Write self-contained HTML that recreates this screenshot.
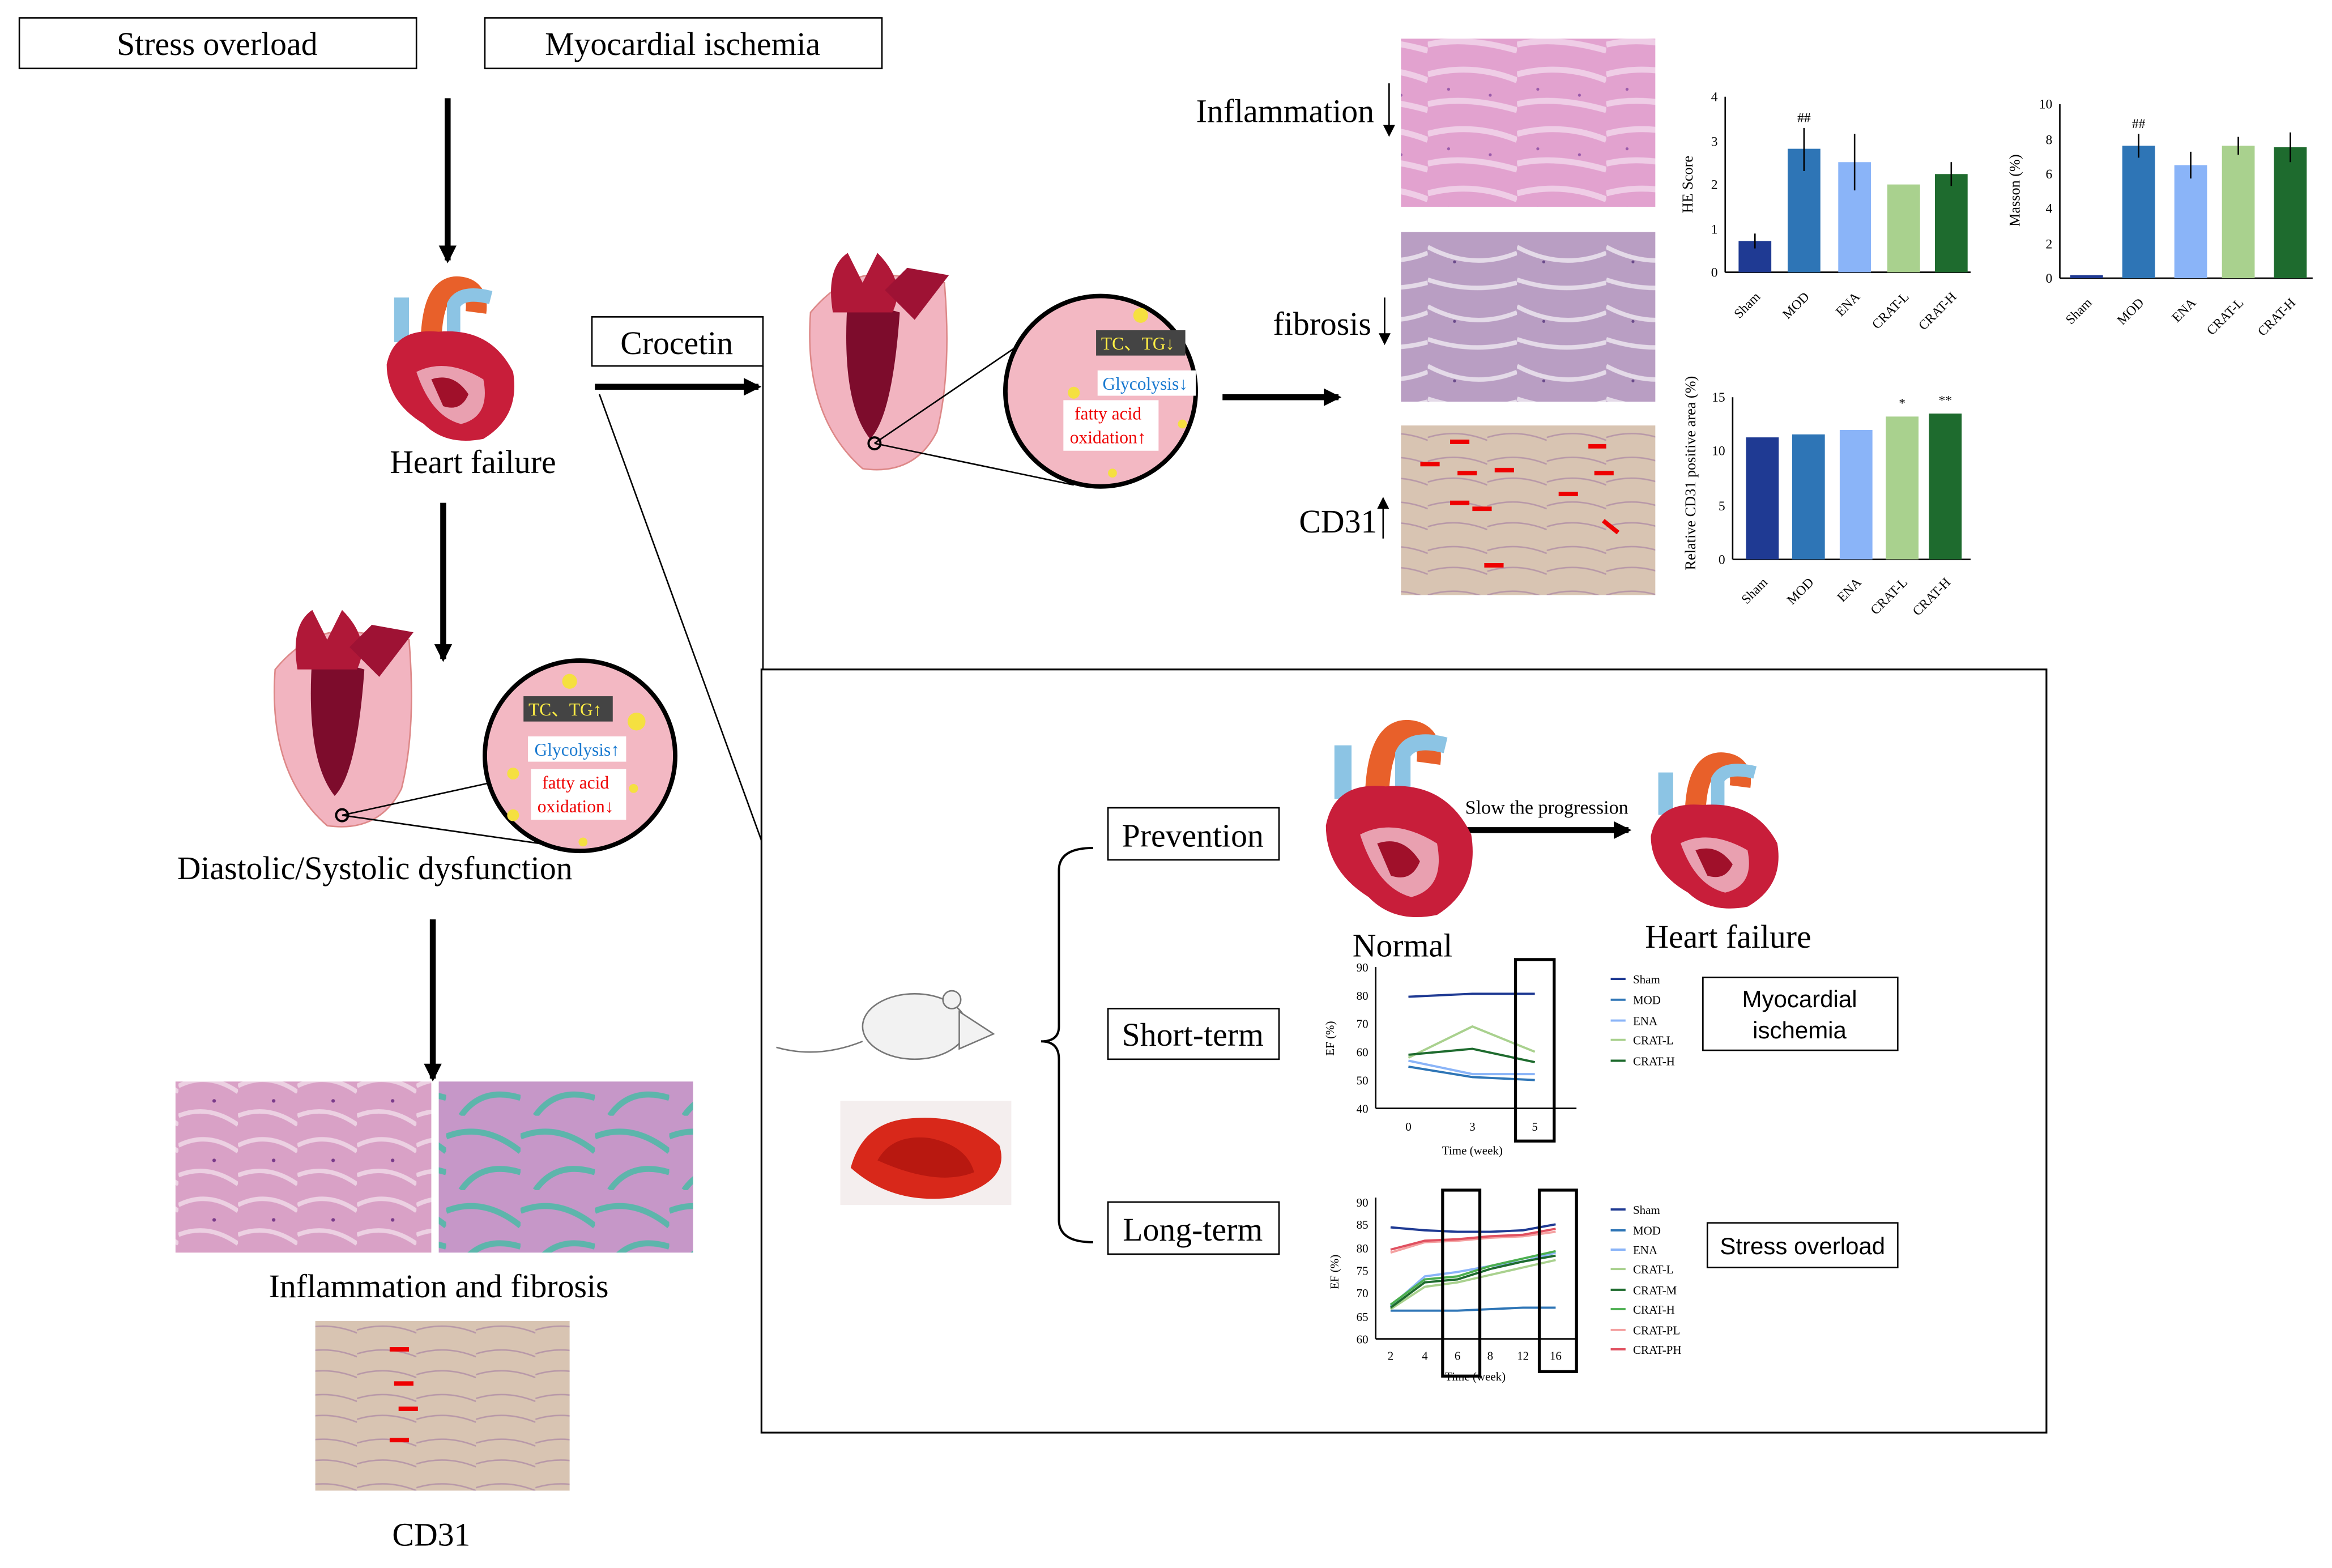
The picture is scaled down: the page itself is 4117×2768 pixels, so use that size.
<!DOCTYPE html>
<html><head><meta charset="utf-8"><style>html,body{margin:0;padding:0;background:#fff}svg{display:block}</style></head>
<body>
<svg width="4117" height="2768" viewBox="0 0 1568 1054" preserveAspectRatio="none" xmlns="http://www.w3.org/2000/svg" font-family="Liberation Serif, serif">
<defs>
<marker id="ah" markerWidth="12" markerHeight="12" refX="10" refY="6" orient="auto" markerUnits="userSpaceOnUse"><path d="M0,0 L12,6 L0,12 z" fill="#000"/></marker>
<pattern id="he" width="60" height="40" patternUnits="userSpaceOnUse"><rect width="60" height="40" fill="#e2a2cf"/><path d="M0,10 Q30,2 60,14 M0,30 Q25,24 60,34" stroke="#efcde6" stroke-width="4" fill="none"/><circle cx="14" cy="20" r="1" fill="#9a5aaa"/><circle cx="42" cy="24" r="1" fill="#9a5aaa"/></pattern>
<pattern id="fb" width="60" height="40" patternUnits="userSpaceOnUse"><rect width="60" height="40" fill="#b99ec3"/><path d="M0,6 Q30,22 60,10 M0,28 Q30,38 60,30" stroke="#e4dae8" stroke-width="3" fill="none"/><circle cx="18" cy="16" r="1" fill="#6a4a8a"/></pattern>
<pattern id="cd" width="40" height="30" patternUnits="userSpaceOnUse"><rect width="40" height="30" fill="#d8c4b2"/><path d="M0,10 Q20,4 40,12 M0,24 Q20,18 40,26" stroke="#b898a8" stroke-width="1" fill="none"/></pattern>
<pattern id="he2" width="40" height="40" patternUnits="userSpaceOnUse"><rect width="40" height="40" fill="#d9a1c6"/><path d="M0,10 Q20,0 40,14 M0,30 Q20,22 40,36" stroke="#ecd0e2" stroke-width="3" fill="none"/><circle cx="24" cy="20" r="1.2" fill="#7a3a8a"/></pattern>
<pattern id="mt" width="50" height="50" patternUnits="userSpaceOnUse"><rect width="50" height="50" fill="#c697c8"/><path d="M0,14 Q25,4 50,24 M10,50 Q24,30 50,38" stroke="#5db5ab" stroke-width="4" fill="none"/></pattern>
<g id="heart">
<path d="M20,15 L20,45" stroke="#8cc4e4" stroke-width="10"/>
<path d="M40,40 Q42,5 60,8 Q72,10 70,25" stroke="#e8602a" stroke-width="14" fill="none"/>
<path d="M55,40 L55,20 Q60,10 80,15" stroke="#8cc4e4" stroke-width="9" fill="none"/>
<path d="M10,60 Q15,35 45,38 Q80,35 95,65 Q100,95 75,110 Q50,115 35,100 Q10,85 10,60z" fill="#c81e3a"/>
<path d="M30,65 Q50,55 75,70 Q80,95 60,100 Q40,95 30,65z" fill="#e9a0b0"/>
<path d="M40,70 Q55,65 65,80 Q60,92 48,88z" fill="#a0102a"/>
</g>
<g id="sect">
<path d="M5,40 Q0,110 40,145 Q75,150 90,120 Q100,80 95,20 L60,15 Q30,10 5,40z" fill="#f2b4c0" stroke="#d88"/>
<path d="M30,30 Q25,100 45,125 Q60,110 65,40z" fill="#7d0c2c"/>
<path d="M20,40 Q15,10 30,0 L40,20 L50,0 Q70,20 60,40z" fill="#b01838"/>
<path d="M55,25 L70,10 L98,15 L75,45z" fill="#9e1234"/>
</g>
</defs>

<rect x="13" y="12" width="267" height="34" fill="#fff" stroke="#000"/>
<text x="146" y="37" font-size="22" text-anchor="middle">Stress overload</text>
<rect x="326" y="12" width="267" height="34" fill="#fff" stroke="#000"/>
<text x="459" y="37" font-size="22" text-anchor="middle">Myocardial ischemia</text>

<g stroke="#000" stroke-width="4" marker-end="url(#ah)">
<line x1="301" y1="66" x2="301" y2="175"/>
<line x1="298" y1="338" x2="298" y2="443"/>
<line x1="291" y1="618" x2="291" y2="725"/>
<line x1="400" y1="260" x2="510" y2="260"/>
<line x1="822" y1="267" x2="900" y2="267"/>
<line x1="986" y1="558" x2="1095" y2="558"/>
</g>

<use href="#heart" x="250" y="185"/>
<text x="318" y="318" font-size="22" text-anchor="middle">Heart failure</text>

<use href="#sect" x="180" y="410"/>
<line x1="230" y1="548" x2="335" y2="525" stroke="#000"/>
<line x1="230" y1="548" x2="370" y2="568" stroke="#000"/>
<circle cx="230" cy="548" r="4" fill="none" stroke="#000" stroke-width="1.5"/>
<circle cx="390" cy="508" r="64" fill="#f3b8c3" stroke="#000" stroke-width="3"/>
<rect x="352" y="468" width="60" height="17" fill="#444"/><text x="380" y="481" font-size="12" fill="#ffee44" text-anchor="middle">TC、TG↑</text>
<rect x="355" y="495" width="66" height="17" fill="#fff"/><text x="388" y="508" font-size="12" fill="#1a7ad0" text-anchor="middle">Glycolysis↑</text>
<rect x="357" y="517" width="64" height="34" fill="#fff"/><text x="387" y="530" font-size="12" fill="#e00" text-anchor="middle">fatty acid</text><text x="387" y="546" font-size="12" fill="#e00" text-anchor="middle">oxidation↓</text>
<g fill="#f5e040"><circle cx="383" cy="458" r="5"/><circle cx="428" cy="485" r="6"/><circle cx="345" cy="520" r="4"/><circle cx="345" cy="548" r="4"/><circle cx="392" cy="566" r="3"/><circle cx="426" cy="530" r="3"/></g>
<text x="252" y="591" font-size="22" text-anchor="middle">Diastolic/Systolic dysfunction</text>

<rect x="118" y="727" width="172" height="115" fill="url(#he2)"/>
<rect x="295" y="727" width="171" height="115" fill="url(#mt)"/>
<text x="295" y="872" font-size="22" text-anchor="middle">Inflammation and fibrosis</text>
<rect x="212" y="888" width="171" height="114" fill="url(#cd)"/>
<g stroke="#e00" stroke-width="3"><line x1="262" y1="907" x2="275" y2="907"/><line x1="265" y1="930" x2="278" y2="930"/><line x1="268" y1="947" x2="281" y2="947"/><line x1="262" y1="968" x2="275" y2="968"/></g>
<text x="290" y="1039" font-size="22" text-anchor="middle">CD31</text>

<rect x="398" y="213" width="115" height="33" fill="#fff" stroke="#000"/>
<text x="455" y="238" font-size="22" text-anchor="middle">Crocetin</text>
<line x1="513" y1="246" x2="513" y2="450" stroke="#000"/>
<line x1="403" y1="265" x2="512" y2="565" stroke="#000"/>

<use href="#sect" x="540" y="170"/>
<line x1="588" y1="298" x2="688" y2="230" stroke="#000"/>
<line x1="588" y1="298" x2="722" y2="326" stroke="#000"/>
<circle cx="588" cy="298" r="4" fill="none" stroke="#000" stroke-width="1.5"/>
<circle cx="740" cy="263" r="64" fill="#f3b8c3" stroke="#000" stroke-width="3"/>
<rect x="737" y="222" width="60" height="17" fill="#444"/><text x="765" y="235" font-size="12" fill="#ffee44" text-anchor="middle">TC、TG↓</text>
<rect x="738" y="249" width="66" height="17" fill="#fff"/><text x="770" y="262" font-size="12" fill="#1a7ad0" text-anchor="middle">Glycolysis↓</text>
<rect x="715" y="269" width="64" height="34" fill="#fff"/><text x="745" y="282" font-size="12" fill="#e00" text-anchor="middle">fatty acid</text><text x="745" y="298" font-size="12" fill="#e00" text-anchor="middle">oxidation↑</text>
<g fill="#f5e040"><circle cx="767" cy="212" r="5"/><circle cx="722" cy="264" r="4"/><circle cx="795" cy="285" r="3"/><circle cx="748" cy="318" r="3"/></g>

<text x="924" y="82" font-size="22" text-anchor="end">Inflammation</text><line x1="934" y1="56" x2="934" y2="88" stroke="#000"/><path d="M930,84 L934,92 L938,84z"/>
<rect x="942" y="26" width="171" height="113" fill="url(#he)"/>
<text x="922" y="225" font-size="22" text-anchor="end">fibrosis</text><line x1="931" y1="200" x2="931" y2="228" stroke="#000"/><path d="M927,224 L931,232 L935,224z"/>
<rect x="942" y="156" width="171" height="114" fill="url(#fb)"/>
<text x="926" y="358" font-size="22" text-anchor="end">CD31</text><line x1="930" y1="338" x2="930" y2="362" stroke="#000"/><path d="M926,342 L930,334 L934,342z"/>
<rect x="942" y="286" width="171" height="114" fill="url(#cd)"/>
<g stroke="#e00" stroke-width="3"><line x1="975" y1="297" x2="988" y2="297"/><line x1="955" y1="312" x2="968" y2="312"/><line x1="980" y1="318" x2="993" y2="318"/><line x1="1005" y1="316" x2="1018" y2="316"/><line x1="1068" y1="300" x2="1080" y2="300"/><line x1="1072" y1="318" x2="1085" y2="318"/><line x1="975" y1="338" x2="988" y2="338"/><line x1="990" y1="342" x2="1003" y2="342"/><line x1="1048" y1="332" x2="1061" y2="332"/><line x1="1078" y1="350" x2="1088" y2="358"/><line x1="998" y1="380" x2="1011" y2="380"/></g>

<g font-size="9" stroke-width="1">
<line x1="1160" y1="65" x2="1160" y2="183" stroke="#000"/><line x1="1160" y1="183" x2="1325" y2="183" stroke="#000"/>
<g text-anchor="end"><text x="1155" y="186">0</text><text x="1155" y="157">1</text><text x="1155" y="127">2</text><text x="1155" y="98">3</text><text x="1155" y="68">4</text></g>
<text transform="translate(1138,124) rotate(-90)" font-size="10" text-anchor="middle">HE Score</text>
<rect x="1169" y="162" width="22" height="21" fill="#1f3a93"/>
<rect x="1202" y="100" width="22" height="83" fill="#2e75b6"/>
<rect x="1236" y="109" width="22" height="74" fill="#8ab4f8"/>
<rect x="1269" y="124" width="22" height="59" fill="#a9d18e"/>
<rect x="1301" y="117" width="22" height="66" fill="#1e6b2e"/>
<g stroke="#000"><line x1="1180" y1="157" x2="1180" y2="167"/><line x1="1213" y1="86" x2="1213" y2="115"/><line x1="1247" y1="90" x2="1247" y2="128"/><line x1="1312" y1="109" x2="1312" y2="125"/></g>
<text x="1213" y="82" text-anchor="middle">##</text>
<g text-anchor="end"><text transform="translate(1184,200) rotate(-45)">Sham</text><text transform="translate(1217,200) rotate(-45)">MOD</text><text transform="translate(1251,200) rotate(-45)">ENA</text><text transform="translate(1284,200) rotate(-45)">CRAT-L</text><text transform="translate(1316,200) rotate(-45)">CRAT-H</text></g>
</g>
<g font-size="9">
<line x1="1385" y1="70" x2="1385" y2="187" stroke="#000"/><line x1="1385" y1="187" x2="1555" y2="187" stroke="#000"/>
<g text-anchor="end"><text x="1380" y="190">0</text><text x="1380" y="167">2</text><text x="1380" y="143">4</text><text x="1380" y="120">6</text><text x="1380" y="97">8</text><text x="1380" y="73">10</text></g>
<text transform="translate(1358,128) rotate(-90)" font-size="10" text-anchor="middle">Masson (%)</text>
<rect x="1392" y="185" width="22" height="2" fill="#1f3a93"/>
<rect x="1427" y="98" width="22" height="89" fill="#2e75b6"/>
<rect x="1462" y="111" width="22" height="76" fill="#8ab4f8"/>
<rect x="1494" y="98" width="22" height="89" fill="#a9d18e"/>
<rect x="1529" y="99" width="22" height="88" fill="#1e6b2e"/>
<g stroke="#000"><line x1="1438" y1="90" x2="1438" y2="106"/><line x1="1473" y1="102" x2="1473" y2="120"/><line x1="1505" y1="92" x2="1505" y2="104"/><line x1="1540" y1="89" x2="1540" y2="109"/></g>
<text x="1438" y="86" text-anchor="middle">##</text>
<g text-anchor="end"><text transform="translate(1407,204) rotate(-45)">Sham</text><text transform="translate(1442,204) rotate(-45)">MOD</text><text transform="translate(1477,204) rotate(-45)">ENA</text><text transform="translate(1509,204) rotate(-45)">CRAT-L</text><text transform="translate(1544,204) rotate(-45)">CRAT-H</text></g>
</g>
<g font-size="9">
<line x1="1165" y1="267" x2="1165" y2="376" stroke="#000"/><line x1="1165" y1="376" x2="1325" y2="376" stroke="#000"/>
<g text-anchor="end"><text x="1160" y="379">0</text><text x="1160" y="343">5</text><text x="1160" y="306">10</text><text x="1160" y="270">15</text></g>
<text transform="translate(1140,318) rotate(-90)" font-size="10" text-anchor="middle">Relative CD31 positive area (%)</text>
<rect x="1174" y="294" width="22" height="82" fill="#1f3a93"/>
<rect x="1205" y="292" width="22" height="84" fill="#2e75b6"/>
<rect x="1237" y="289" width="22" height="87" fill="#8ab4f8"/>
<rect x="1268" y="280" width="22" height="96" fill="#a9d18e"/>
<rect x="1297" y="278" width="22" height="98" fill="#1e6b2e"/>
<text x="1279" y="274" text-anchor="middle">*</text><text x="1308" y="272" text-anchor="middle">**</text>
<g text-anchor="end"><text transform="translate(1189,392) rotate(-45)">Sham</text><text transform="translate(1220,392) rotate(-45)">MOD</text><text transform="translate(1252,392) rotate(-45)">ENA</text><text transform="translate(1283,392) rotate(-45)">CRAT-L</text><text transform="translate(1312,392) rotate(-45)">CRAT-H</text></g>
</g>

<rect x="512" y="450" width="864" height="513" fill="none" stroke="#000" stroke-width="1.2"/>
<ellipse cx="615" cy="690" rx="35" ry="22" fill="#f2f2f2" stroke="#777"/>
<path d="M645,680 L668,695 L645,705z" fill="#f2f2f2" stroke="#777"/>
<circle cx="640" cy="672" r="6" fill="#f2f2f2" stroke="#777"/>
<path d="M580,700 Q550,712 522,704" stroke="#777" fill="none"/>
<rect x="565" y="740" width="115" height="70" fill="#f4eeee"/>
<path d="M572,785 Q580,755 610,752 Q650,748 672,770 Q680,795 640,805 Q600,810 572,785z" fill="#d8281a"/>
<path d="M590,780 Q600,762 625,765 Q650,770 655,788 Q630,798 590,780z" fill="#b81810"/>
<path d="M735,570 Q712,570 712,585 L712,690 Q712,700 700,700 Q712,700 712,712 L712,820 Q712,835 735,835" fill="none" stroke="#000" stroke-width="1.5"/>
<g font-size="22" text-anchor="middle">
<rect x="745" y="543" width="115" height="35" fill="#fff" stroke="#000"/><text x="802" y="569">Prevention</text>
<rect x="745" y="678" width="115" height="34" fill="#fff" stroke="#000"/><text x="802" y="703">Short-term</text>
<rect x="745" y="808" width="115" height="35" fill="#fff" stroke="#000"/><text x="802" y="834">Long-term</text>
</g>
<use href="#heart" transform="translate(880,483) scale(1.15,1.2)"/>
<text x="943" y="643" font-size="22" text-anchor="middle">Normal</text>
<text x="1040" y="547" font-size="13" text-anchor="middle">Slow the progression</text>
<use href="#heart" transform="translate(1100,505) scale(1.0,0.95)"/>
<text x="1162" y="637" font-size="22" text-anchor="middle">Heart failure</text>

<g font-size="8">
<line x1="925" y1="650" x2="925" y2="745" stroke="#000"/><line x1="925" y1="745" x2="1060" y2="745" stroke="#000"/>
<g text-anchor="end"><text x="920" y="748">40</text><text x="920" y="729">50</text><text x="920" y="710">60</text><text x="920" y="691">70</text><text x="920" y="672">80</text><text x="920" y="653">90</text></g>
<text x="947" y="760" text-anchor="middle">0</text><text x="990" y="760" text-anchor="middle">3</text><text x="1032" y="760" text-anchor="middle">5</text>
<text x="990" y="776" text-anchor="middle">Time (week)</text>
<text transform="translate(897,698) rotate(-90)" text-anchor="middle">EF (%)</text>
<g fill="none" stroke-width="1.5">
<polyline points="947,670 990,668 1032,668" stroke="#1f3a93"/>
<polyline points="947,717 990,724 1032,726" stroke="#2e75b6"/>
<polyline points="947,713 990,722 1032,722" stroke="#8ab4f8"/>
<polyline points="947,711 990,690 1032,707" stroke="#a9d18e"/>
<polyline points="947,709 990,705 1032,714" stroke="#1e6b2e"/>
</g>
<rect x="1019" y="645" width="26" height="122" fill="none" stroke="#000" stroke-width="2"/>
<g><text x="1098" y="661">Sham</text><text x="1098" y="675">MOD</text><text x="1098" y="689">ENA</text><text x="1098" y="702">CRAT-L</text><text x="1098" y="716">CRAT-H</text></g>
<g stroke-width="1.5"><line x1="1083" y1="658" x2="1093" y2="658" stroke="#1f3a93"/><line x1="1083" y1="672" x2="1093" y2="672" stroke="#2e75b6"/><line x1="1083" y1="686" x2="1093" y2="686" stroke="#8ab4f8"/><line x1="1083" y1="699" x2="1093" y2="699" stroke="#a9d18e"/><line x1="1083" y1="713" x2="1093" y2="713" stroke="#1e6b2e"/></g>
</g>
<rect x="1145" y="657" width="131" height="49" fill="#fff" stroke="#000"/>
<text x="1210" y="677" font-size="16" text-anchor="middle" font-family="Liberation Sans, sans-serif">Myocardial</text>
<text x="1210" y="698" font-size="16" text-anchor="middle" font-family="Liberation Sans, sans-serif">ischemia</text>

<g font-size="8">
<line x1="925" y1="805" x2="925" y2="900" stroke="#000"/><line x1="925" y1="900" x2="1060" y2="900" stroke="#000"/>
<g text-anchor="end"><text x="920" y="903">60</text><text x="920" y="888">65</text><text x="920" y="872">70</text><text x="920" y="857">75</text><text x="920" y="842">80</text><text x="920" y="826">85</text><text x="920" y="811">90</text></g>
<g text-anchor="middle"><text x="935" y="914">2</text><text x="958" y="914">4</text><text x="980" y="914">6</text><text x="1002" y="914">8</text><text x="1024" y="914">12</text><text x="1046" y="914">16</text></g>
<text x="992" y="928" text-anchor="middle">Time (week)</text>
<text transform="translate(900,855) rotate(-90)" text-anchor="middle">EF (%)</text>
<g fill="none" stroke-width="1.5">
<polyline points="935,825 958,827 980,828 1002,828 1024,827 1046,823" stroke="#1f3a93"/>
<polyline points="935,881 958,881 980,881 1002,880 1024,879 1046,879" stroke="#2e75b6"/>
<polyline points="935,878 958,858 980,855 1002,851 1024,848 1046,842" stroke="#8ab4f8"/>
<polyline points="935,880 958,865 980,862 1002,857 1024,852 1046,847" stroke="#a9d18e"/>
<polyline points="935,879 958,862 980,860 1002,853 1024,848 1046,844" stroke="#1e6b2e"/>
<polyline points="935,877 958,860 980,858 1002,851 1024,846 1046,841" stroke="#4caf50"/>
<polyline points="935,842 958,835 980,834 1002,832 1024,831 1046,828" stroke="#f4a0a0"/>
<polyline points="935,840 958,834 980,833 1002,831 1024,830 1046,826" stroke="#e05060"/>
</g>
<rect x="970" y="800" width="25" height="125" fill="none" stroke="#000" stroke-width="2"/>
<rect x="1035" y="800" width="25" height="122" fill="none" stroke="#000" stroke-width="2"/>
<g><text x="1098" y="816">Sham</text><text x="1098" y="830">MOD</text><text x="1098" y="843">ENA</text><text x="1098" y="856">CRAT-L</text><text x="1098" y="870">CRAT-M</text><text x="1098" y="883">CRAT-H</text><text x="1098" y="897">CRAT-PL</text><text x="1098" y="910">CRAT-PH</text></g>
<g stroke-width="1.5"><line x1="1083" y1="813" x2="1093" y2="813" stroke="#1f3a93"/><line x1="1083" y1="827" x2="1093" y2="827" stroke="#2e75b6"/><line x1="1083" y1="840" x2="1093" y2="840" stroke="#8ab4f8"/><line x1="1083" y1="853" x2="1093" y2="853" stroke="#a9d18e"/><line x1="1083" y1="867" x2="1093" y2="867" stroke="#1e6b2e"/><line x1="1083" y1="880" x2="1093" y2="880" stroke="#4caf50"/><line x1="1083" y1="894" x2="1093" y2="894" stroke="#f4a0a0"/><line x1="1083" y1="907" x2="1093" y2="907" stroke="#e05060"/></g>
</g>
<rect x="1148" y="822" width="128" height="30" fill="#fff" stroke="#000"/>
<text x="1212" y="843" font-size="16" text-anchor="middle" font-family="Liberation Sans, sans-serif">Stress overload</text>
</svg>
</body></html>
